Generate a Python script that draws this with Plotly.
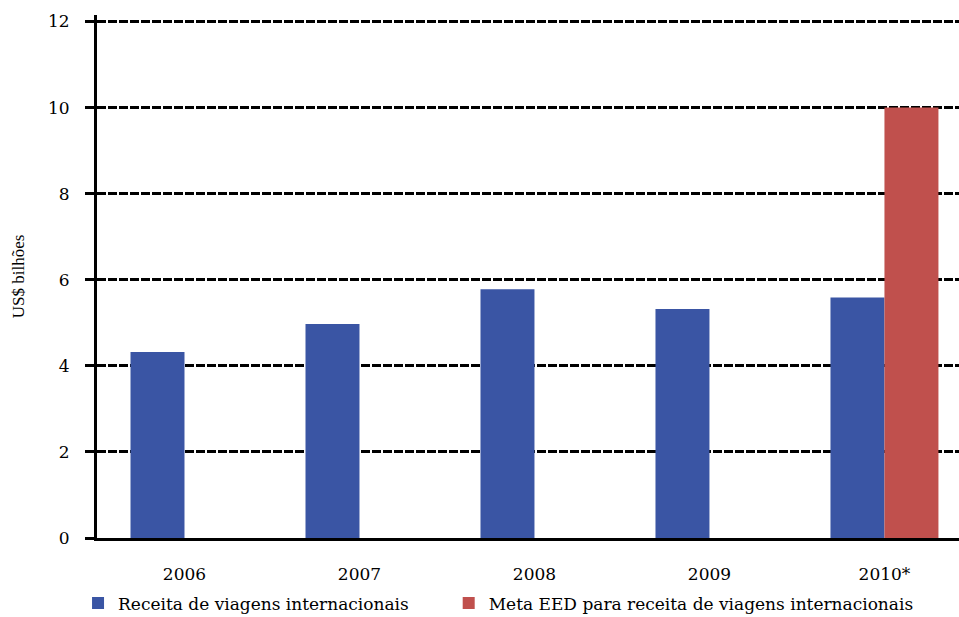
import plotly.graph_objects as go

# Receita de viagens internacionais (US$ bilhões) e meta EED para 2010
anos = ["2006", "2007", "2008", "2009", "2010*"]
receita = [4.32, 4.97, 5.78, 5.32, 5.59]
meta_eed = [None, None, None, None, 10.0]
y_ticks = [0, 2, 4, 6, 8, 10, 12]

serif = "DejaVu Serif"
title_font = "Liberation Serif"

fig = go.Figure()
fig.add_trace(go.Bar(
    x=anos, y=receita, name="Receita de viagens internacionais",
    marker=dict(color="#3A55A4", line=dict(width=0)),
    legend="legend",
))
fig.add_trace(go.Bar(
    x=anos, y=meta_eed, name="Meta EED para receita de viagens internacionais",
    marker=dict(color="#C0504D", line=dict(width=0)),
    legend="legend2",
))

legend_style = dict(
    orientation="h", xanchor="left", y=-0.125, yanchor="middle",
    font=dict(family=serif, size=17, color="black"),
    itemwidth=30, bgcolor="rgba(0,0,0,0)",
)

fig.update_layout(
    width=959, height=617,
    margin=dict(l=97, r=0, t=14.5, b=79, autoexpand=False),
    paper_bgcolor="white", plot_bgcolor="white",
    barmode="group", bargap=0.383, bargroupgap=0,
    font=dict(family=serif, size=17, color="black"),
    showlegend=True,
    legend=dict(x=-0.022, **legend_style),
    legend2=dict(x=0.408, **legend_style),
)

fig.update_xaxes(
    type="category", range=[-0.5, 4.426],
    showline=True, linecolor="black", linewidth=3,
    ticks="", showgrid=False,
    tickfont=dict(family=serif, size=17), ticklabelstandoff=19,
)
fig.update_yaxes(
    range=[0, 12.15], tickvals=y_ticks,
    showline=True, linecolor="black", linewidth=3,
    ticks="outside", ticklen=9, tickwidth=3, tickcolor="black",
    showgrid=True, gridcolor="black", gridwidth=2.5, griddash="9px,2px",
    zeroline=False,
    tickfont=dict(family=serif, size=17), ticklabelstandoff=12,
    title=dict(text="US$ bilhões", font=dict(family=title_font, size=17), standoff=20),
)

fig.write_html("out.html")
